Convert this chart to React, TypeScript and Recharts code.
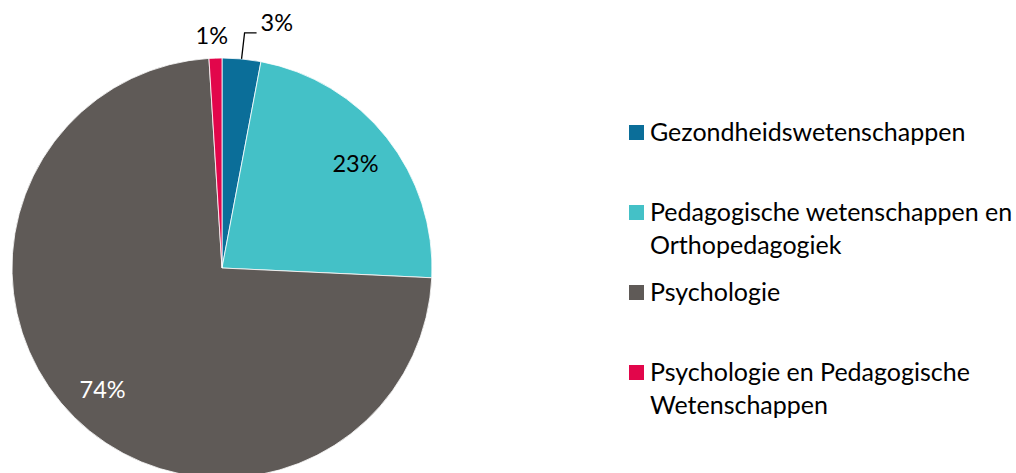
import { PieChart, Pie, Cell, Legend } from 'recharts';

const categories = [
  'Gezondheidswetenschappen',
  'Pedagogische wetenschappen en Orthopedagogiek',
  'Psychologie',
  'Psychologie en Pedagogische Wetenschappen',
];
const legendLines = [
  ['Gezondheidswetenschappen'],
  ['Pedagogische wetenschappen en', 'Orthopedagogiek'],
  ['Psychologie'],
  ['Psychologie en Pedagogische', 'Wetenschappen'],
];
const shares = [3, 23, 74, 1];
const colors = ['#0B6E99', '#44C1C7', '#5F5A57', '#E2064B'];
const labelColors = ['#000000', '#000000', '#FFFFFF', '#000000'];

const data = categories.map((name, i) => ({ name, value: shares[i] }));

const RADIAN = Math.PI / 180;
const FONT = 'Lato, "Open Sans", sans-serif';

const renderLabel = (props: any) => {
  const { cx, cy, midAngle, outerRadius, value, index } = props;
  const cos = Math.cos(-midAngle * RADIAN);
  const sin = Math.sin(-midAngle * RADIAN);
  const text = `${value}%`;
  if (value >= 10) {
    const r = outerRadius * 0.81;
    return (
      <text
        x={cx + r * cos}
        y={cy + r * sin}
        fill={labelColors[index]}
        fontSize={23.5}
        fontFamily={FONT}
        textAnchor="middle"
        dominantBaseline="central"
      >
        {text}
      </text>
    );
  }
  if (value >= 2) {
    // small slice with leader line
    const sx = cx + outerRadius * cos;
    const sy = cy + outerRadius * sin;
    const ey = sy - 26;
    const ex = sx + 3;
    return (
      <g>
        <polyline points={`${sx},${sy} ${ex},${ey} ${ex + 12},${ey}`} fill="none" stroke="#000" strokeWidth={1.3} />
        <text x={ex + 16} y={ey - 11} fill="#000" fontSize={23.5} fontFamily={FONT} dominantBaseline="central">
          {text}
        </text>
      </g>
    );
  }
  const r = outerRadius + 23;
  return (
    <text
      x={cx + r * cos - 3}
      y={cy + r * sin}
      fill="#000"
      fontSize={23.5}
      fontFamily={FONT}
      textAnchor="middle"
      dominantBaseline="central"
    >
      {text}
    </text>
  );
};

const renderLegend = () => (
  <div style={{ fontFamily: FONT, fontSize: 25, color: '#000', whiteSpace: 'nowrap' }}>
    {legendLines.map((lines, i) => (
      <div key={i} style={{ display: 'flex', height: 80, alignItems: 'flex-start' }}>
        <div style={{ width: 15, height: 15, background: colors[i], marginTop: 10, marginRight: 6, flexShrink: 0 }} />
        <div style={{ lineHeight: '33px' }}>
          {lines.map((l, j) => (
            <div key={j}>{l}</div>
          ))}
        </div>
      </div>
    ))}
  </div>
);

export default function App() {
  return (
    <div style={{ position: 'absolute', left: 0, top: 0, width: 1016, height: 473, background: '#fff', overflow: 'hidden' }}>
      <PieChart width={1016} height={473} margin={{ top: 0, right: 0, bottom: 0, left: 0 }}>
        <Pie
          data={data}
          dataKey="value"
          nameKey="name"
          cx={222}
          cy={268}
          outerRadius={210}
          startAngle={90}
          endAngle={-270}
          stroke="#fff"
          strokeWidth={0.8}
          label={renderLabel}
          labelLine={false}
          isAnimationActive={false}
        >
          {data.map((d, i) => (
            <Cell key={d.name} fill={colors[i]} />
          ))}
        </Pie>
        <Legend
          content={renderLegend}
          wrapperStyle={{ left: 629, top: 115, width: 387 }}
        />
      </PieChart>
    </div>
  );
}
